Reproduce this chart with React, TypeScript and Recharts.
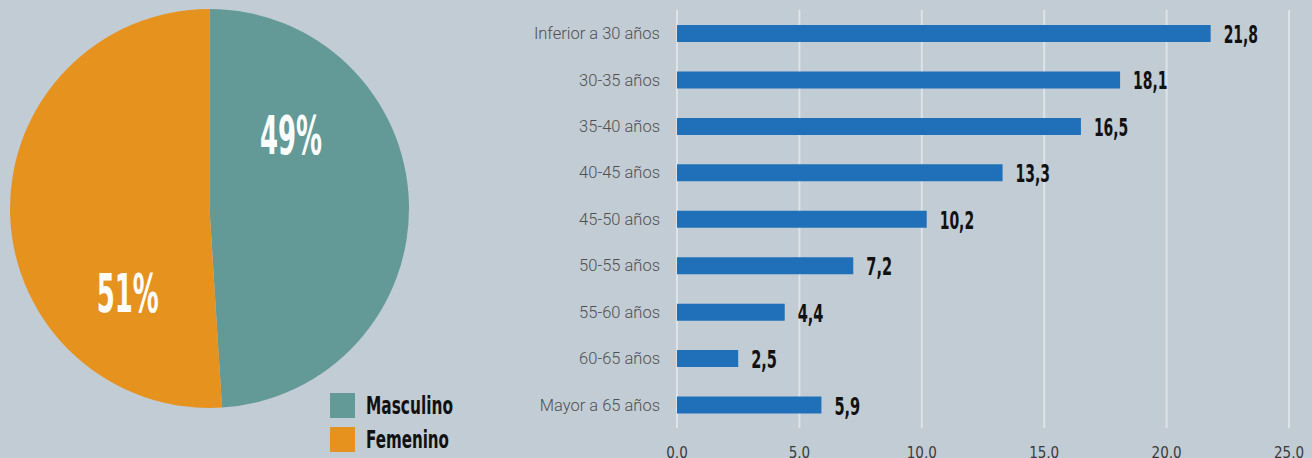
import { PieChart, Pie, Cell, BarChart, Bar, XAxis, YAxis, CartesianGrid, LabelList } from 'recharts';

if (typeof document !== 'undefined') document.body.style.margin = '0';

const genders = ['Masculino', 'Femenino'];
const genderShares = [49, 51];
const genderColors = ['#639a98', '#e6921e'];

const ageGroups = [
  'Inferior a 30 años',
  '30-35 años',
  '35-40 años',
  '40-45 años',
  '45-50 años',
  '50-55 años',
  '55-60 años',
  '60-65 años',
  'Mayor a 65 años',
];
const ageValues = [21.8, 18.1, 16.5, 13.3, 10.2, 7.2, 4.4, 2.5, 5.9];
const xTicks = [0, 5, 10, 15, 20, 25];

const pieData = genders.map((name, i) => ({ name, value: genderShares[i] }));
const barData = ageGroups.map((group, i) => ({ group, value: ageValues[i] }));

const BG = '#c2ccd5';
const COND = "'Liberation Sans Narrow', 'DejaVu Sans Condensed', 'Arial Narrow', sans-serif";
const comma = (v: number) => v.toFixed(1).replace('.', ',');

// label placement inside each slice (angle in degrees, radius fraction)
const pieLabelPos = [
  { angle: 42, r: 0.55 },
  { angle: -134, r: 0.59 },
];

const PieLabel = (props: any) => {
  const { cx, cy, outerRadius, index, value } = props;
  const p = pieLabelPos[index];
  const a = (p.angle * Math.PI) / 180;
  const x = cx + Math.cos(a) * outerRadius * p.r;
  const y = cy - Math.sin(a) * outerRadius * p.r;
  return (
    <text x={x} y={y} fill="#fff" fontFamily={COND} fontWeight="bold" fontSize={54}
      textAnchor="middle" dominantBaseline="central" textLength={62} lengthAdjust="spacingAndGlyphs">
      {value}%
    </text>
  );
};

const GenderLegend = () => (
  <div style={{ position: 'absolute', left: 330, top: 388 }}>
    {genders.map((g, i) => (
      <div key={g} style={{ display: 'flex', alignItems: 'center', height: 34 }}>
        <div style={{ width: 25, height: 25, background: genderColors[i], marginRight: 11 }} />
        <svg width={120} height={30}>
          <text x={0} y={24} fontFamily={COND} fontWeight="bold" fontSize={25} fill="#111"
            textLength={g === 'Masculino' ? 87 : 83} lengthAdjust="spacingAndGlyphs">{g}</text>
        </svg>
      </div>
    ))}
  </div>
);

const ValueLabel = (props: any) => {
  const { x, y, width, height, value } = props;
  const s = comma(value);
  return (
    <text x={x + width + 13} y={y + height / 2 + 1} fill="#111" fontFamily={COND} fontWeight="bold"
      fontSize={25} dominantBaseline="central" textLength={s.length * 8.6} lengthAdjust="spacingAndGlyphs">
      {s}
    </text>
  );
};

export default function App() {
  return (
    <div style={{ position: 'relative', width: 1312, height: 458, background: BG, overflow: 'hidden' }}>
      <div style={{ position: 'absolute', left: 0, top: 0 }}>
        <PieChart width={470} height={458} margin={{ top: 0, right: 0, bottom: 0, left: 0 }}>
          <Pie data={pieData} dataKey="value" nameKey="name" cx={209.5} cy={208.5} outerRadius={199.5}
            startAngle={90} endAngle={-270} stroke="none" label={PieLabel} labelLine={false} isAnimationActive={false}>
            {pieData.map((d, i) => <Cell key={d.name} fill={genderColors[i]} />)}
          </Pie>
        </PieChart>
      </div>
      <GenderLegend />
      <div style={{ position: 'absolute', left: 480, top: 0 }}>
        <BarChart width={832} height={458} data={barData} layout="vertical"
          margin={{ top: 10, right: 23, bottom: 0, left: 0 }} barSize={17}>
          <CartesianGrid horizontal={false} stroke="#dde3e8" strokeWidth={2} />
          <XAxis type="number" domain={[0, 25]} ticks={xTicks} tickFormatter={comma} axisLine={false}
            tickLine={false} tickSize={0} tickMargin={19} height={30}
            tick={{ fill: '#3a3a3a', fontSize: 15, fontFamily: COND }} />
          <YAxis type="category" dataKey="group" width={197} axisLine={false} tickLine={false}
            tickSize={0} tickMargin={17} interval={0}
            tick={{ fill: '#505050', fontSize: 16.5, fontFamily: 'Roboto, sans-serif', fontWeight: 300 }} />
          <Bar dataKey="value" fill="#1f70b8" isAnimationActive={false}>
            <LabelList dataKey="value" content={ValueLabel} />
          </Bar>
        </BarChart>
      </div>
    </div>
  );
}
